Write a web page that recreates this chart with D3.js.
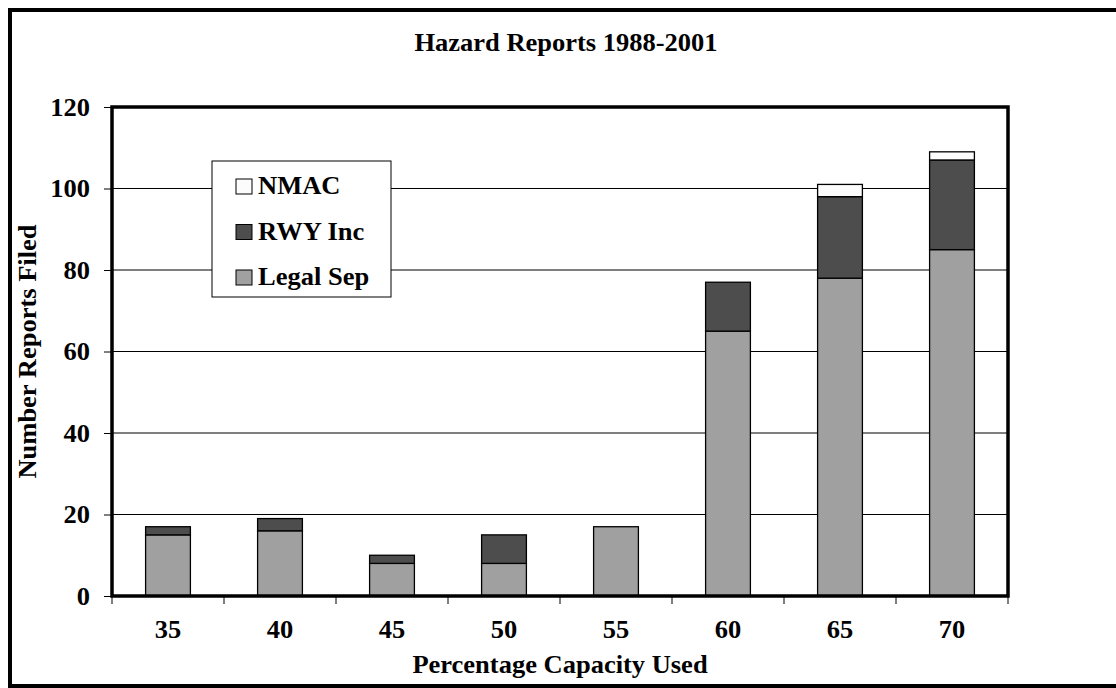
<!DOCTYPE html>
<html>
<head>
<meta charset="utf-8">
<script src="https://cdn.jsdelivr.net/npm/d3@7"></script>
<style>
body{margin:0;background:#fff}
text{font-family:"Liberation Serif",serif;font-weight:bold;fill:#000}
</style>
</head>
<body>
<svg id="chart"></svg>
<script>
// data
var capacity = ["35","40","45","50","55","60","65","70"]
var legalSep = [15,16,8,8,17,65,78,85]
var rwyInc = [2,3,2,7,0,12,20,22]
var nmac = [0,0,0,0,0,0,3,2]
var seriesNames = ["Legal Sep","RWY Inc","NMAC"]
var seriesColors = ["#a0a0a0","#4d4d4d","#fcfcfc"]
var yTicks = [0,20,40,60,80,100,120]

var screen = {width:1116,height:688}
var margins = {left:112,right:108,top:107,bottom:92}
var graph = {
    width:screen.width-margins.left-margins.right,
    height:screen.height-margins.top-margins.bottom
}
var fs = 25
var stretch = 1.06

var svg = d3.select("#chart")
    .attr("width",screen.width)
    .attr("height",screen.height)

// outer frame (right side runs off the page)
svg.append("rect")
    .attr("x",10).attr("y",10)
    .attr("width",1120).attr("height",676)
    .attr("fill","none").attr("stroke","#000").attr("stroke-width",4)

var table = capacity.map(function(c,i){
    return {cap:c,"Legal Sep":legalSep[i],"RWY Inc":rwyInc[i],"NMAC":nmac[i]}
})
var stacked = d3.stack().keys(seriesNames)(table)

var xScale = d3.scaleBand()
    .domain(capacity)
    .range([0,graph.width])
var yScale = d3.scaleLinear()
    .domain([0,120])
    .range([graph.height,0])

var target = svg.append("g")
    .attr("transform","translate("+margins.left+","+margins.top+")")

// gridlines
target.append("g").selectAll("line")
    .data(yTicks.slice(1,-1))
    .enter().append("line")
    .attr("x1",0).attr("x2",graph.width)
    .attr("y1",function(d){return yScale(d)})
    .attr("y2",function(d){return yScale(d)})
    .attr("stroke","#000").attr("stroke-width",1)

// bars
var barW = xScale.bandwidth()*0.4
target.append("g").selectAll("g")
    .data(stacked)
    .enter().append("g")
    .attr("fill",function(d,i){return seriesColors[i]})
    .selectAll("rect")
    .data(function(d){return d.filter(function(p){return p[1]>p[0]})})
    .enter().append("rect")
    .attr("x",function(d){return xScale(d.data.cap)+(xScale.bandwidth()-barW)/2})
    .attr("y",function(d){return yScale(d[1])})
    .attr("width",barW)
    .attr("height",function(d){return yScale(d[0])-yScale(d[1])})
    .attr("stroke","#000").attr("stroke-width",1.3)

// plot frame
target.append("rect")
    .attr("x",0).attr("y",0)
    .attr("width",graph.width).attr("height",graph.height)
    .attr("fill","none").attr("stroke","#000").attr("stroke-width",3.5)

// y axis
var yAxis = d3.axisLeft(yScale).tickValues(yTicks).tickSize(8).tickPadding(10)
var ya = target.append("g").call(yAxis)
ya.select(".domain").remove()
ya.selectAll("line").attr("stroke","#000")
ya.selectAll("text")
    .attr("font-size",fs)
    .attr("dy",null).attr("dominant-baseline",null)
    .attr("y",8)
    .attr("x",null)
    .attr("transform","translate(-22,0) scale("+stretch+",1)")
    .attr("text-anchor","end")

// x axis ticks at band edges
var xa = target.append("g").attr("transform","translate(0,"+graph.height+")")
xa.selectAll("line")
    .data(capacity.concat(["end"]))
    .enter().append("line")
    .attr("x1",function(d,i){return i*xScale.step()})
    .attr("x2",function(d,i){return i*xScale.step()})
    .attr("y1",0).attr("y2",8)
    .attr("stroke","#000")
xa.selectAll("text")
    .data(capacity)
    .enter().append("text")
    .text(function(d){return d})
    .attr("font-size",fs)
    .attr("text-anchor","middle")
    .attr("transform",function(d){
        return "translate("+(xScale(d)+xScale.bandwidth()/2)+",42) scale("+stretch+",1)"})

// labels
var labels = svg.append("g")
labels.append("text")
    .text("Hazard Reports 1988-2001")
    .attr("font-size",fs)
    .attr("text-anchor","middle")
    .attr("transform","translate("+(margins.left+graph.width/2+6)+",51) scale("+stretch+",1)")
labels.append("text")
    .text("Percentage Capacity Used")
    .attr("font-size",fs)
    .attr("text-anchor","middle")
    .attr("transform","translate("+(margins.left+graph.width/2)+",673) scale("+stretch+",1)")
labels.append("text")
    .text("Number Reports Filed")
    .attr("font-size",fs)
    .attr("text-anchor","middle")
    .attr("transform","translate(36,"+(margins.top+graph.height/2)+") rotate(270) scale("+stretch+",1)")

// legend
var legend = svg.append("g").attr("transform","translate(212,161)")
legend.append("rect")
    .attr("width",179).attr("height",136)
    .attr("fill","#fff").attr("stroke","#000").attr("stroke-width",1)
var order = [2,1,0]
var items = legend.selectAll("g.item")
    .data(order)
    .enter().append("g")
    .attr("class","item")
    .attr("transform",function(d,i){return "translate(0,"+(25+i*45.5)+")"})
items.append("rect")
    .attr("x",24).attr("y",-7)
    .attr("width",16).attr("height",15)
    .attr("fill",function(d){return seriesColors[d]})
    .attr("stroke","#000").attr("stroke-width",1)
items.append("text")
    .text(function(d){return seriesNames[d]})
    .attr("font-size",fs)
    .attr("transform","translate(46,8) scale("+stretch+",1)")
</script>
</body>
</html>
